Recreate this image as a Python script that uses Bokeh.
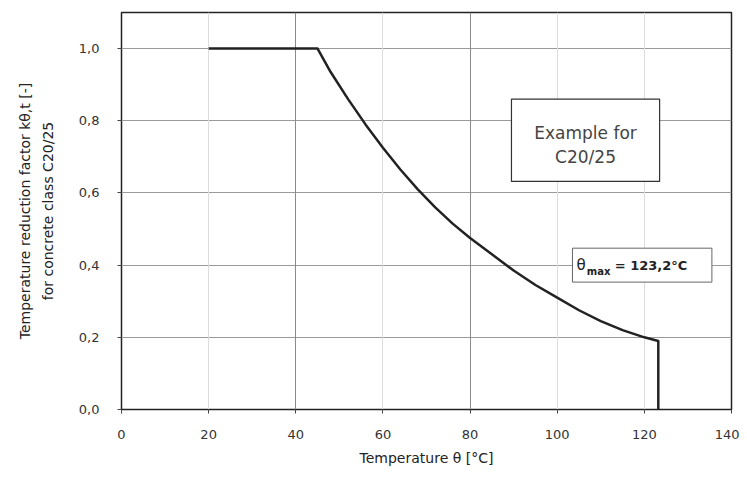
from bokeh.plotting import figure
from bokeh.models import FixedTicker, Grid, Label, BoxAnnotation, Range1d
from bokeh.embed import file_html
from bokeh.resources import INLINE

# data
theta = [20, 45, 48, 52, 56, 60, 64, 68, 72, 76, 80, 85, 90, 95, 100, 105, 110, 115, 120, 123.2, 123.2]
k_theta = [1.0, 1.0, 0.935, 0.86, 0.79, 0.725, 0.665, 0.61, 0.56, 0.515, 0.475, 0.43, 0.385, 0.345,
           0.31, 0.275, 0.245, 0.22, 0.2, 0.19, 0.0]
x_ticks = [0, 20, 40, 60, 80, 100, 120, 140]
y_ticks = [0.0, 0.2, 0.4, 0.6, 0.8, 1.0]
y_tick_labels = ["0,0", "0,2", "0,4", "0,6", "0,8", "1,0"]
theta_max_text = "= 123,2°C"

FONT = "DejaVu Sans"

p = figure(width=739, height=469, output_backend="svg", toolbar_location=None,
           x_range=Range1d(0, 140), y_range=Range1d(0, 1.1),
           min_border_left=121, min_border_right=8, min_border_top=12, min_border_bottom=60)
p.background_fill_color = "white"
p.border_fill_color = "white"
p.outline_line_color = "#222222"
p.outline_line_width = 1.5

# grids
p.xgrid.visible = False
p.ygrid.ticker = FixedTicker(ticks=[0.2, 0.4, 0.6, 0.8, 1.0])
p.ygrid.grid_line_color = "#9a9a9a"
p.ygrid.grid_line_width = 1
p.add_layout(Grid(dimension=0, ticker=FixedTicker(ticks=[20, 60, 100, 120]),
                  grid_line_color="#dddddd", grid_line_width=1))
p.add_layout(Grid(dimension=0, ticker=FixedTicker(ticks=[40, 80]),
                  grid_line_color="#8a8a8a", grid_line_width=1))

# axes
p.xaxis.ticker = FixedTicker(ticks=x_ticks)
p.yaxis.ticker = FixedTicker(ticks=y_ticks)
p.yaxis.major_label_overrides = {t: l for t, l in zip(y_ticks, y_tick_labels)}
for ax in (p.xaxis[0], p.yaxis[0]):
    ax.axis_line_color = None
    ax.major_tick_line_color = "#444444"
    ax.major_tick_out = 4
    ax.major_tick_in = 0
    ax.minor_tick_line_color = None
    ax.major_label_text_font = FONT
    ax.major_label_text_font_size = "13px"
    ax.major_label_text_color = "#333333"
    ax.axis_label_text_font = FONT
    ax.axis_label_text_font_size = "14px"
    ax.axis_label_text_font_style = "normal"
    ax.axis_label_text_color = "#222222"
p.yaxis.axis_label_text_line_height = 1.4
p.xaxis.axis_label_text_line_height = 1.0
p.xaxis.major_label_standoff = 16
p.yaxis.major_label_standoff = 18
p.xaxis.axis_label = "Temperature θ [°C]"
p.xaxis.axis_label_standoff = 8
p.yaxis.axis_label = "Temperature reduction factor kθ,t [-]\nfor concrete class C20/25"
p.yaxis.axis_label_standoff = 20

# curve
p.line(theta, k_theta, line_color="#222222", line_width=2.5, line_join="round")

# annotation box "Example for C20/25"
p.add_layout(BoxAnnotation(left=89.5, right=123.5, bottom=0.632, top=0.86,
                           fill_color="white", fill_alpha=1.0,
                           line_color="#333333", line_alpha=1.0, line_width=1.2))
p.add_layout(Label(x=106.5, y=0.765, text="Example for", text_align="center",
                   text_baseline="middle", text_font=FONT, text_font_size="17px",
                   text_color="#444444"))
p.add_layout(Label(x=106.5, y=0.70, text="C20/25", text_align="center",
                   text_baseline="middle", text_font=FONT, text_font_size="17px",
                   text_color="#444444"))

# theta max label box
p.add_layout(BoxAnnotation(left=103.5, right=135.5, bottom=0.353, top=0.447,
                           fill_color="white", fill_alpha=1.0,
                           line_color="#666666", line_alpha=1.0, line_width=1))
p.add_layout(Label(x=104.4, y=0.4, text="θ", text_align="left", text_baseline="middle",
                   text_font=FONT, text_font_size="15px", text_color="#222222"))
p.add_layout(Label(x=106.8, y=0.383, text="max", text_align="left", text_baseline="middle",
                   text_font=FONT, text_font_size="10px", text_color="#222222",
                   text_font_style="bold"))
p.add_layout(Label(x=113.2, y=0.4, text=theta_max_text, text_align="left", text_baseline="middle",
                   text_font=FONT, text_font_size="13px", text_color="#222222",
                   text_font_style="bold"))

open("out.html", "w").write(file_html(p, INLINE))
